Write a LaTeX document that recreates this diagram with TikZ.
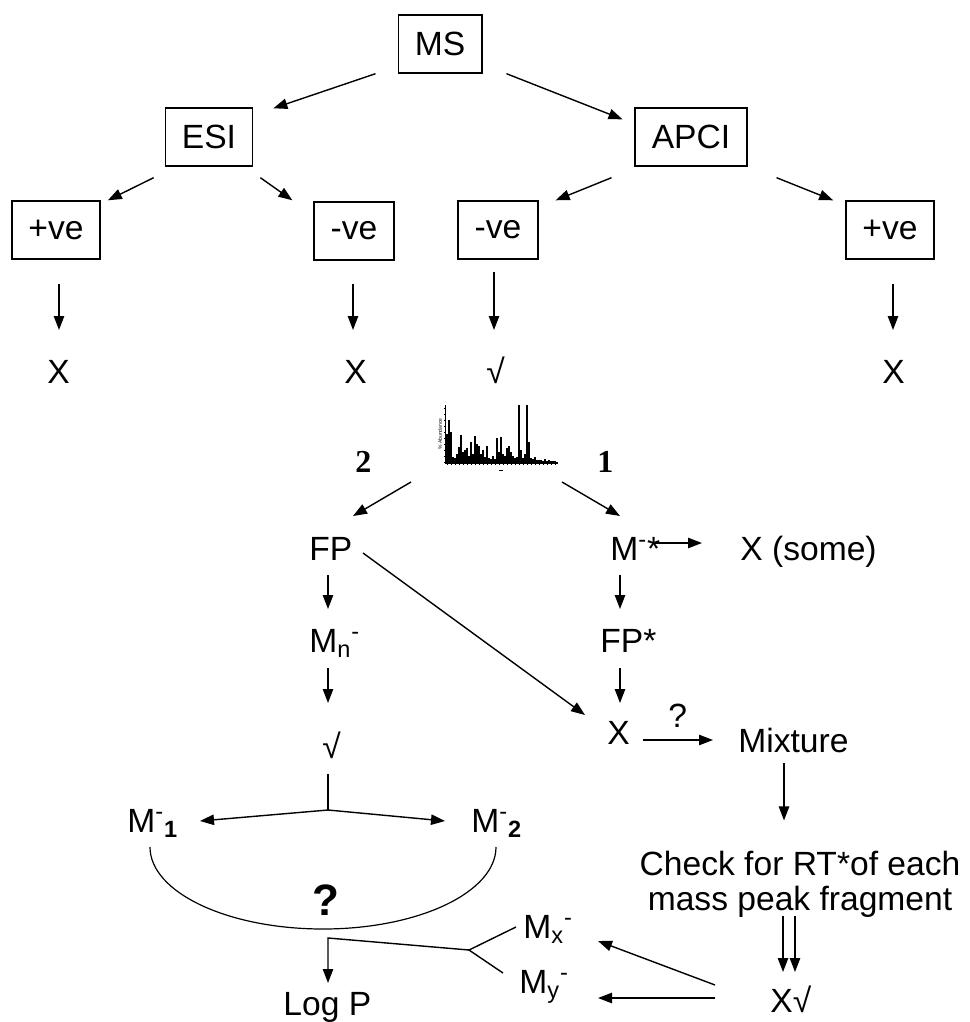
\documentclass[tikz,border=0pt]{standalone}
\usepackage{fontspec}
\setmainfont{Liberation Sans}
\newfontfamily\numfont{Liberation Serif}
\usetikzlibrary{arrows.meta}
\tikzset{
  >={Triangle[length=7pt,width=5.2pt]},
  box/.style={draw,line width=0.7pt,inner xsep=8.3pt,inner ysep=0pt,minimum height=29pt},
  flow/.style={->,line width=0.7pt},
  link/.style={line width=0.7pt},
  txt/.style={inner sep=0pt,anchor=base west},
  numlbl/.style={txt,font=\fontsize{16}{18}\selectfont\numfont\bfseries},
}
\newcommand{\bodyfont}{\fontsize{16.8}{17.5}\selectfont}

\begin{document}
\begin{tikzpicture}[x=0.5pt,y=-0.5pt,font=\bodyfont]
\useasboundingbox (0,0) rectangle (969,1022);
% ionisation tree
\node[box] (ms) at (440,44) {MS};
\node[box] (esi) at (209,137) {ESI};
\node[box] (apci) at (691,137) {APCI};
\node[box] (esipos) at (56,230) {+ve};
\node[box] (esineg) at (354,231) {-ve};
\node[box] (apcineg) at (498,230) {-ve};
\node[box] (apcipos) at (890,230) {+ve};
\node[txt] (resA) at (47,383) {X};
\node[txt] (resB) at (344,383) {X};
\node[txt] (resC) at (486,383) {√};
\node[txt] (resD) at (882,383) {X};
\draw[flow] ([shift={(-22,0)}]ms.south west) -- ([shift={(20,1)}]esi.north east);
\draw[flow] ([shift={(24,0)}]ms.south east) -- ([shift={(-12,12)}]apci.north west);
\draw[flow] ([shift={(-11,11)}]esi.south west) -- ([shift={(7,0)}]esipos.north east);
\draw[flow] ([shift={(7,11)}]esi.south east) -- ([shift={(-21,-1)}]esineg.north west);
\draw[flow] ([shift={(-23,11)}]apci.south west) -- ([shift={(17,0)}]apcineg.north east);
\draw[flow] ([shift={(29,11)}]apci.south east) -- ([shift={(-12,0)}]apcipos.north west);
\draw[flow] ([shift={(3,24)}]esipos.south) -- ([shift={(12,-53)}]resA.base west);
\draw[flow] ([shift={(-1,23)}]esineg.south) -- ([shift={(9,-53)}]resB.base west);
\draw[flow] ([shift={(-4,12)}]apcineg.south) -- ([shift={(8,-53)}]resC.base west);
\draw[flow] ([shift={(3,24)}]apcipos.south) -- ([shift={(11,-53)}]resD.base west);
% spectrum
\node[inner sep=0pt,minimum width=56.5pt,minimum height=29pt] (spec) at (501,434) {};
\foreach \h [count=\k from 0] in {28,42,30,5,4,8,15,27,10,12,14,6,20,8,26,18,16,8,12,5,16,4,3,6,3,24,10,25,8,6,14,16,10,6,4,5,57,12,4,8,57,20,4,3,5,2,2,2,1,3,1,2,1,1,1}
  \draw[line width=0.6pt] (447+2*\k,462) -- ++(0,-\h);
\foreach \t in {0,...,27} \draw[line width=0.2pt] (447+4*\t,463) -- ++(0,2);
\foreach \t in {0,...,9} \draw[line width=0.2pt] (445,462-6*\t) -- ++(-1.5,0);
\draw[line width=0.4pt] (445,405) -- (445,463);
\draw[line width=1pt] (445,463) -- (558,463);
\draw[line width=0.3pt] (499,470) -- (503,470);
\node[rotate=90,inner sep=0pt,font=\fontsize{2.5}{3}\selectfont] (ylab) at (440,434) {\% Abundance};
\node[numlbl] (lbltwo) at (355,472) {2};
\node[numlbl] (lblone) at (597,472) {1};
% route 2
\node[txt] (fp) at (309,560) {FP};
\node[txt] (mn) at (309,652) {M\textsubscript{n}\textsuperscript{-}};
\node[txt] (okleft) at (322,758) {√};
\node[txt] (mone) at (127,832) {M\textsuperscript{-}\textsubscript{\textbf{1}}};
\node[txt] (mtwo) at (471,832) {M\textsuperscript{-}\textsubscript{\textbf{2}}};
\node[txt,font=\fontsize{22}{24}\selectfont\bfseries] (ques) at (312,915) {?};
\node[txt] (logp) at (283,1015) {Log P};
\draw[flow] ([shift={(-90,48)}]spec.center) -- ([shift={(44,-44)}]fp.base west);
\draw[flow] ([shift={(19,15)}]fp.base west) -- ([shift={(19,-43)}]mn.base west);
\draw[flow] ([shift={(19,16)}]mn.base west) -- ([shift={(6,-55)}]okleft.base west);
\draw[link] ([shift={(6,16)}]okleft.base west) -- ([shift={(6,52)}]okleft.base west) coordinate (fork);
\draw[flow] (fork) -- ([shift={(73,-11)}]mone.base west);
\draw[flow] (fork) -- ([shift={(-26,-11)}]mtwo.base west);
\draw[line width=0.6pt] ([shift={(23,15)}]mone.base west) arc[start angle=180,end angle=0,x radius=173,y radius=82];
% route 1
\node[txt] (mstar) at (610,560) {M\textsuperscript{-}*};
\node[txt] (xsome) at (740,560) {X (some)};
\node[txt] (fpstar) at (600,652) {FP*};
\node[txt] (xmid) at (607,744) {X};
\node[txt] (qmark) at (668,727) {?};
\node[txt] (mix) at (738,752) {Mixture};
\node[inner sep=0pt,align=center] (check) at (800,884) {Check for RT*of each\\mass peak fragment};
\node[txt] (xok) at (770,1012) {X√};
\node[txt] (mx) at (523,938) {M\textsubscript{x}\textsuperscript{-}};
\node[txt] (my) at (519,993) {M\textsubscript{y}\textsuperscript{-}};
\draw[flow] ([shift={(61,48)}]spec.center) -- ([shift={(10,-44)}]mstar.base west);
\draw[flow] ([shift={(45,-17)}]mstar.base west) -- ([shift={(-38,-17)}]xsome.base west);
\draw[flow] ([shift={(10,15)}]mstar.base west) -- ([shift={(20,-43)}]fpstar.base west);
\draw[flow] ([shift={(20,16)}]fpstar.base west) -- ([shift={(13,-41)}]xmid.base west);
\draw[flow] ([shift={(54,-7)}]fp.base west) -- ([shift={(-22,-29)}]xmid.base west);
\draw[flow] ([shift={(36,-4)}]xmid.base west) -- ([shift={(-25,-12)}]mix.base west);
\draw[flow] ([shift={(46,11)}]mix.base west) -- ([shift={(-16,-30)}]check.north);
\draw[flow] ([shift={(-17,-2)}]check.south) -- ([shift={(13,-40)}]xok.base west);
\draw[flow] ([shift={(-5,-2)}]check.south) -- ([shift={(25,-40)}]xok.base west);
\draw[flow] ([shift={(-55,-27)}]xok.base west) -- ([shift={(75,3)}]mx.base west);
\draw[flow] ([shift={(-55,-14)}]xok.base west) -- ([shift={(79,5)}]my.base west);
% to Log P
\draw[link] ([shift={(-7,-11)}]mx.base west) -- ([shift={(-54,12)}]mx.base west) coordinate (join) -- ([shift={(-16,-20)}]my.base west);
\draw[flow] (join) -- ([shift={(45,-77)}]logp.base west) -- ([shift={(45,-32)}]logp.base west);
\end{tikzpicture}
\end{document}
